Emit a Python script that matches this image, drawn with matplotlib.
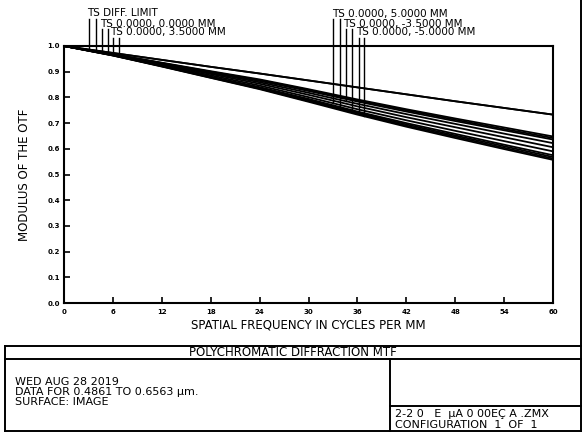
import numpy as np
import matplotlib
matplotlib.use("Agg")
import matplotlib.pyplot as plt

# spatial frequency samples (cycles/mm)
freq = [0, 6, 12, 18, 24, 30, 36, 42, 48, 54, 60]

# diffraction limit (T and S coincide)
diff_limit = [1.0, 0.973, 0.946, 0.919, 0.893, 0.866, 0.839, 0.812, 0.785, 0.759, 0.733]

# tangential / sagittal curves per field
f00_t = [1.0, 0.968, 0.935, 0.902, 0.870, 0.832, 0.792, 0.754, 0.718, 0.683, 0.648]
f00_s = [1.0, 0.968, 0.934, 0.900, 0.867, 0.829, 0.788, 0.750, 0.713, 0.677, 0.642]
f35_t = [1.0, 0.967, 0.933, 0.898, 0.864, 0.825, 0.784, 0.745, 0.708, 0.672, 0.636]
f35_s = [1.0, 0.966, 0.929, 0.891, 0.853, 0.810, 0.765, 0.723, 0.684, 0.645, 0.606]
f50_t = [1.0, 0.965, 0.926, 0.886, 0.846, 0.801, 0.754, 0.711, 0.670, 0.630, 0.590]
f50_s = [1.0, 0.963, 0.921, 0.877, 0.834, 0.786, 0.737, 0.690, 0.647, 0.604, 0.562]
fm35_t = [1.0, 0.967, 0.931, 0.895, 0.859, 0.818, 0.775, 0.735, 0.697, 0.659, 0.622]
fm35_s = [1.0, 0.964, 0.923, 0.881, 0.840, 0.794, 0.745, 0.700, 0.658, 0.616, 0.575]
fm50_t = [1.0, 0.964, 0.922, 0.879, 0.837, 0.790, 0.741, 0.695, 0.652, 0.610, 0.568]
fm50_s = [1.0, 0.963, 0.920, 0.876, 0.832, 0.783, 0.733, 0.686, 0.642, 0.599, 0.557]

labels = ["TS DIFF. LIMIT", "TS 0.0000, 0.0000 MM", "TS 0.0000, 3.5000 MM",
          "TS 0.0000, 5.0000 MM", "TS 0.0000, -3.5000 MM", "TS 0.0000, -5.0000 MM"]
pairs = [(diff_limit, diff_limit), (f00_t, f00_s), (f35_t, f35_s),
         (f50_t, f50_s), (fm35_t, fm35_s), (fm50_t, fm50_s)]
# frequencies where the label leaders meet the curves
leader_freq = [(3.07, 3.93), (4.66, 5.40), (6.01, 6.75),
               (33.0, 33.87), (34.6, 35.34), (36.2, 36.8)]

xticks = [0, 6, 12, 18, 24, 30, 36, 42, 48, 54, 60]
xticklabels = ["0", "6", "12", "18", "24", "30", "36", "42", "48", "54", "60"]
yticks = [0.0, 0.1, 0.2, 0.3, 0.4, 0.5, 0.6, 0.7, 0.8, 0.9, 1.0]

W, H = 584, 434
fig = plt.figure(figsize=(W / 100, H / 100), dpi=100)
plt.rcParams["font.family"] = "DejaVu Sans"

# overlay in pixel coordinates for the frame and text block
ov = fig.add_axes([0, 0, 1, 1])
ov.set_xlim(0, W)
ov.set_ylim(H, 0)
ov.axis("off")

ax_l, ax_r, ax_t, ax_b = 64, 553, 46, 303
ax = fig.add_axes([ax_l / W, 1 - ax_b / H, (ax_r - ax_l) / W, (ax_b - ax_t) / H])
ax.set_xlim(0, 60)
ax.set_ylim(0, 1.0)

for t, s in pairs:
    ax.plot(freq, t, color="black", lw=1.3, solid_capstyle="butt")
    ax.plot(freq, s, color="black", lw=1.3, solid_capstyle="butt")

for sp in ax.spines.values():
    sp.set_linewidth(1.5)

ax.set_xticks(xticks)
ax.set_xticklabels(xticklabels, fontsize=5, fontweight="bold")
ax.set_yticks(yticks)
ax.set_yticklabels(["%.1f" % v for v in yticks], fontsize=5, fontweight="bold")
ax.tick_params(axis="both", direction="in", width=1.2, length=4, pad=3)
ax.tick_params(axis="x", pad=4)

ax.set_xlabel("SPATIAL FREQUENCY IN CYCLES PER MM", fontsize=8.5, labelpad=3)
ax.set_ylabel("MODULUS OF THE OTF", fontsize=8.5, labelpad=12)

# leader lines and field labels
px_per_unit = ax_b - ax_t
row_top = [19, 29, 38]
row_base = [16.5, 26.5, 35.5]
label_x = [87, 100, 110, 332, 343, 356]
for i, (lab, (t, s), lf) in enumerate(zip(labels, pairs, leader_freq)):
    row = i % 3
    top = 1 + (ax_t - row_top[row]) / px_per_unit
    for xf, curve in zip(lf, (t, s)):
        yb = np.interp(xf, freq, curve)
        ax.plot([xf, xf], [yb, top], color="black", lw=1.0, clip_on=False)
    ov.text(label_x[i], row_base[row], lab, fontsize=7.5, va="baseline", ha="left")

# frame and text block
lw = 1.4
ov.plot([581, 581], [0, 431], color="black", lw=lw)
ov.plot([5, 581], [346, 346], color="black", lw=lw)
ov.plot([5, 581], [359, 359], color="black", lw=lw)
ov.plot([5, 581], [431, 431], color="black", lw=lw)
ov.plot([5, 5], [346, 431], color="black", lw=lw)
ov.plot([390, 390], [359, 431], color="black", lw=lw)
ov.plot([390, 581], [406, 406], color="black", lw=lw)

ov.text(293, 353, "POLYCHROMATIC DIFFRACTION MTF", fontsize=8.5, ha="center", va="center")
ov.text(15, 385, "WED AUG 28 2019", fontsize=8, va="baseline")
ov.text(15, 395, "DATA FOR 0.4861 TO 0.6563 \u00b5m.", fontsize=8, va="baseline")
ov.text(15, 405, "SURFACE: IMAGE", fontsize=8, va="baseline")
ov.text(395, 417, "2-2 0   E  \u00b5A 0 00E\u00c7 A .ZMX", fontsize=8, va="baseline")
ov.text(395, 428, "CONFIGURATION  1  OF  1", fontsize=8, va="baseline")

fig.savefig("out.png", dpi=100)
